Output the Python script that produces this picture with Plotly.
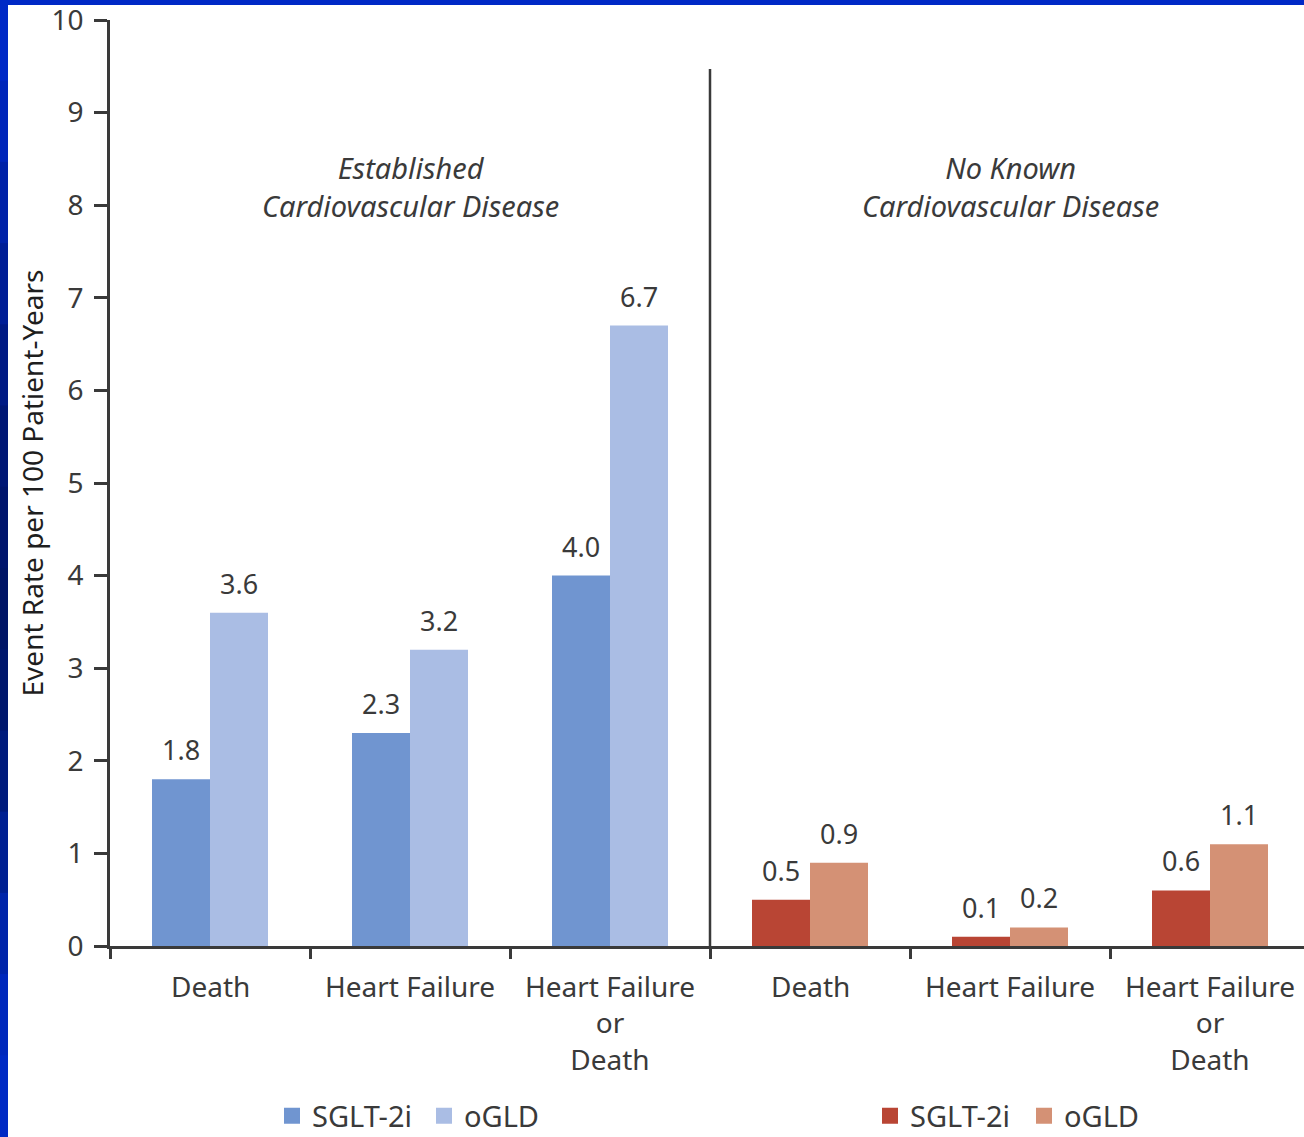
import plotly.graph_objects as go

# Event rates per 100 patient-years
categories = ["Death", "Heart Failure", "Heart Failure<br>or<br>Death"]
cv_sglt2i = [1.8, 2.3, 4.0]
cv_ogld = [3.6, 3.2, 6.7]
nocv_sglt2i = [0.5, 0.1, 0.6]
nocv_ogld = [0.9, 0.2, 1.1]
panel_titles = ["Established<br>Cardiovascular Disease", "No Known<br>Cardiovascular Disease"]
y_ticks = list(range(0, 11))

BLUE_DARK = "#7095D0"
BLUE_LIGHT = "#AABDE4"
RED_DARK = "#B94534"
RED_LIGHT = "#D49175"
INK = "#3a3a3a"
FONT = "Noto Sans"

W, H = 1304, 1137
ML, MR, MT, MB = 110, 0, 20, 191
PLOT_W = W - ML - MR
PLOT_H = H - MT - MB

# group centres: first panel at 0.5, 1.5, 2.5; second panel at 3.5, 4.5, 5.5
x_cv = [i + 0.5 for i in range(len(categories))]
x_nocv = [i + 3.5 for i in range(len(categories))]
BAR_W = 0.29

fig = go.Figure()


def add_bars(xs, ys, color, offset, name, legend):
    fig.add_trace(go.Bar(
        x=xs, y=ys, width=BAR_W, offset=offset, name=name,
        marker=dict(color=color, line=dict(width=0)),
        showlegend=False, hoverinfo="x+y",
    ))
    # square legend swatch
    fig.add_trace(go.Scatter(
        x=[None], y=[None], mode="markers", name=name,
        marker=dict(symbol="square", size=18, color=color),
        legend=legend, showlegend=True,
    ))


add_bars(x_cv, cv_sglt2i, BLUE_DARK, -BAR_W, "SGLT-2i", "legend")
add_bars(x_cv, cv_ogld, BLUE_LIGHT, 0, "oGLD", "legend2")
add_bars(x_nocv, nocv_sglt2i, RED_DARK, -BAR_W, "SGLT-2i", "legend3")
add_bars(x_nocv, nocv_ogld, RED_LIGHT, 0, "oGLD", "legend4")

annotations = []

# value labels above each bar
for xs, ys, off in [(x_cv, cv_sglt2i, -BAR_W / 2), (x_cv, cv_ogld, BAR_W / 2),
                    (x_nocv, nocv_sglt2i, -BAR_W / 2), (x_nocv, nocv_ogld, BAR_W / 2)]:
    for x, y in zip(xs, ys):
        annotations.append(dict(
            x=x + off, y=y, xref="x", yref="y", text=f"{y:.1f}",
            showarrow=False, yanchor="bottom", yshift=9,
            font=dict(family=FONT, size=27, color=INK),
        ))

# category labels under the axis
for xs in (x_cv, x_nocv):
    for x, label in zip(xs, categories):
        annotations.append(dict(
            x=x, y=0, xref="x", yref="paper", text=label,
            showarrow=False, yanchor="top", yshift=-19,
            font=dict(family=FONT, size=28, color=INK),
        ))

# panel titles
for x, title in zip([1.5, 4.5], panel_titles):
    annotations.append(dict(
        x=x, y=8.2, xref="x", yref="y", text=f"<i>{title}</i>",
        showarrow=False, yanchor="middle",
        font=dict(family=FONT, size=29, color=INK),
    ))

shapes = [
    # panel divider
    dict(type="line", xref="x", yref="y", x0=3, x1=3, y0=0, y1=9.47,
         line=dict(color=INK, width=2.5), layer="above"),
]

# blue frame on the page edges
frame_colors = ["#0029C6", "#0026BA", "#0022A8", "#001E96", "#001A84", "#001775",
                "#00156C", "#001566", "#00176C", "#001B7C", "#002092", "#0025AA",
                "#0028BC", "#002AC4"]
seg = H / len(frame_colors)
for i, c in enumerate(frame_colors):
    shapes.append(dict(
        type="rect", xref="paper", yref="paper",
        x0=(0 - ML) / PLOT_W, x1=(8 - ML) / PLOT_W,
        y0=(H - MB - (i + 1) * seg - 0.5) / PLOT_H, y1=(H - MB - i * seg + 0.5) / PLOT_H,
        fillcolor=c, line=dict(width=0), layer="above",
    ))
shapes.append(dict(
    type="rect", xref="paper", yref="paper",
    x0=(0 - ML) / PLOT_W, x1=(W - ML) / PLOT_W,
    y0=(H - MB - 5) / PLOT_H, y1=(H - MB) / PLOT_H + 0.01,
    fillcolor="#0029C6", line=dict(width=0), layer="above",
))

legend_style = dict(
    orientation="h", yanchor="middle", xanchor="left", yref="container",
    y=1 - 1116 / H,
    font=dict(family=FONT, size=29, color=INK),
    bgcolor="rgba(0,0,0,0)", itemclick=False, itemdoubleclick=False,
)

# swatch centres of the four legend entries
swatch_x = [292, 444, 890, 1044]
legend_keys = ["legend", "legend2", "legend3", "legend4"]
legends = {k: dict(x=(sx - 20 - ML) / PLOT_W, **legend_style) for k, sx in zip(legend_keys, swatch_x)}

fig.update_layout(
    width=W, height=H,
    margin=dict(l=ML, r=MR, t=MT, b=MB, pad=0, autoexpand=False),
    paper_bgcolor="white", plot_bgcolor="white",
    barmode="overlay",
    font=dict(family=FONT, color=INK),
    showlegend=True,
    **legends,
    xaxis=dict(
        range=[0, PLOT_W / 200], tickvals=list(range(0, 7)), ticktext=[""] * 7,
        ticks="outside", ticklen=10, tickwidth=2.5, tickcolor=INK,
        showline=True, linecolor=INK, linewidth=2.5, showgrid=False, zeroline=False,
        fixedrange=True,
    ),
    yaxis=dict(
        range=[0, 10], tickvals=y_ticks, ticks="outside", ticklen=13, tickwidth=2.5,
        tickcolor=INK, ticklabelstandoff=5, ticklabeloverflow="allow",
        tickfont=dict(family=FONT, size=28, color=INK),
        showline=True, linecolor=INK, linewidth=2.5, showgrid=False, zeroline=False,
        title=dict(text="Event Rate per 100 Patient-Years", standoff=0,
                   font=dict(family=FONT, size=28, color="#1e1e1e")),
        fixedrange=True,
    ),
    annotations=annotations,
    shapes=shapes,
)

fig.write_html("out.html")
